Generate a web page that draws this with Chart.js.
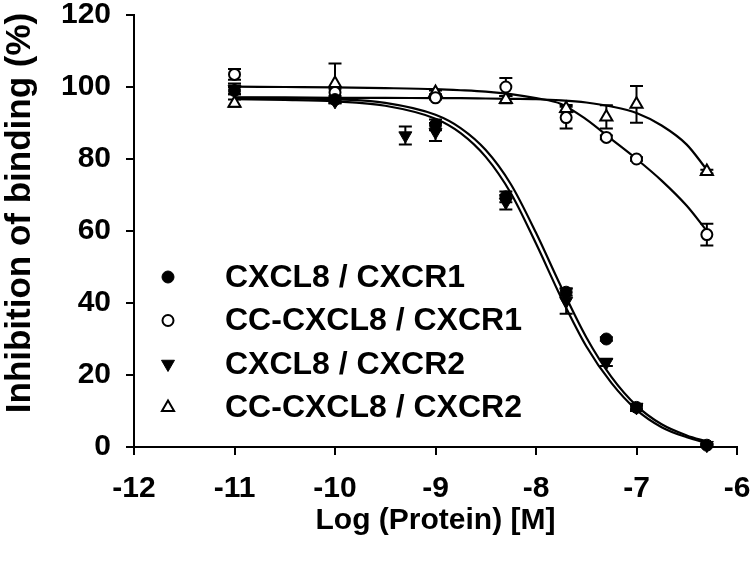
<!DOCTYPE html>
<html><head><meta charset="utf-8">
<script src="https://cdn.jsdelivr.net/npm/chart.js@4/dist/chart.umd.min.js"></script>
<style>html,body{margin:0;padding:0;background:#fff}#wrap{width:750px;height:568px}</style>
</head><body><div id="wrap"><canvas id="c" width="750" height="568"></canvas></div>
<script>
// ---- data ----
const seriesNames = ['CXCL8 / CXCR1', 'CC-CXCL8 / CXCR1', 'CXCL8 / CXCR2', 'CC-CXCL8 / CXCR2'];
const xLabel = 'Log (Protein) [M]';
const yLabel = 'Inhibition of binding (%)';
const xMin = -12, xMax = -6, xStep = 1;
const yMin = 0, yMax = 120, yStep = 20;

// measured points (log dose, % inhibition, error)
const cxcl8R1_x   = [-11, -10, -9, -8.3, -7.7, -7.3, -7, -6.3];
const cxcl8R1_y   = [99, 96.5, 89.5, 69.5, 43, 30, 11, 0.5];
const cxcl8R1_err = [1, 0.5, 1.5, 1.5, 1, 0.5, 0.5, 0.3];

const ccR1_x   = [-11, -10, -9, -8.3, -7.7, -7.3, -7, -6.3];
const ccR1_y   = [103.5, 98.5, 97, 100, 91.5, 86, 80, 59];
const ccR1_err = [1.5, 1, 0.5, 2.5, 3, 0.5, 0.5, 3];

const cxcl8R2_x   = [-11, -10, -9.3, -9, -8.3, -7.7, -7.3, -7, -6.3];
const cxcl8R2_y   = [99.5, 96, 86.5, 87.5, 68, 40.5, 23.5, 11, 0.5];
const cxcl8R2_err = [1.5, 0.5, 2.5, 2.5, 2, 3.5, 1, 1, 0.3];

const ccR2_x   = [-11, -10, -9, -8.3, -7.7, -7.3, -7, -6.3];
const ccR2_y   = [95.5, 101, 98.5, 96.5, 94, 91.7, 95.2, 76.5];
const ccR2_err = [1, 5.5, 0.5, 1, 1, 3.2, 5.1, 0.5];

// fitted curves at these log doses
const curve_x        = [-11, -10.5, -10, -9.5, -9, -8.75, -8.5, -8.25, -8, -7.75, -7.5, -7.25, -7, -6.75, -6.5, -6.3];
const curveCxcl8R1_y = [97.0, 96.9, 96.6, 95.6, 92.3, 88.6, 82.5, 73.0, 59.5, 44.5, 30.5, 19.5, 11.5, 6.3, 3.2, 1.5];
const curveCxcl8R2_y = [96.6, 96.4, 96.0, 94.8, 91.2, 87.2, 80.6, 70.5, 56.5, 41.5, 28.0, 17.8, 10.3, 5.5, 2.7, 1.1];
const curveCcR1_y    = [100.1, 100.0, 99.9, 99.7, 99.4, 99.1, 98.7, 98.0, 96.9, 95.3, 91.0, 85.5, 80.0, 74.0, 67.0, 60.0];
const curveCcR2_y    = [97.1, 97.1, 97.0, 97.0, 96.9, 96.9, 96.8, 96.7, 96.6, 96.3, 95.7, 94.6, 92.8, 89.3, 84.0, 77.0];

// ---- build ----
const FONT = "'Liberation Sans', Arial, sans-serif";
const pts = (xs, ys, es) => xs.map((x, i) => ({x: x, y: ys[i], e: es ? es[i] : 0}));

const markerStyles = [
  {pointStyle: 'circle',   rotation: 0,   radius: 6,   bg: '#000', bw: 1},
  {pointStyle: 'circle',   rotation: 0,   radius: 5.5, bg: '#fff', bw: 2},
  {pointStyle: 'triangle', rotation: 180, radius: 7.5, bg: '#000', bw: 1},
  {pointStyle: 'triangle', rotation: 0,   radius: 7,   bg: '#fff', bw: 2}
];
const pointSets = [
  pts(cxcl8R1_x, cxcl8R1_y, cxcl8R1_err),
  pts(ccR1_x, ccR1_y, ccR1_err),
  pts(cxcl8R2_x, cxcl8R2_y, cxcl8R2_err),
  pts(ccR2_x, ccR2_y, ccR2_err)
];
const curveSets = [curveCxcl8R1_y, curveCcR1_y, curveCxcl8R2_y, curveCcR2_y];

const datasets = [];
curveSets.forEach((ys, k) => {
  datasets.push({
    label: seriesNames[k] + ' fit', data: pts(curve_x, ys), showLine: true,
    borderColor: '#000', borderWidth: 2.2, pointRadius: 0, fill: false,
    cubicInterpolationMode: 'monotone', order: 10, clip: false, isCurve: true
  });
});
pointSets.forEach((d, k) => {
  const m = markerStyles[k];
  datasets.push({
    label: seriesNames[k], data: d, showLine: false,
    pointStyle: m.pointStyle, rotation: m.rotation, pointRadius: m.radius,
    pointBackgroundColor: m.bg, pointBorderColor: '#000', pointBorderWidth: m.bw,
    order: 1, clip: false, isPoints: true, markerIndex: k
  });
});

const errorBars = {
  id: 'errorBars',
  beforeDatasetsDraw(chart) {
    const ctx = chart.ctx, xs = chart.scales.x, ys = chart.scales.y;
    ctx.save();
    ctx.strokeStyle = '#000'; ctx.lineWidth = 2;
    chart.data.datasets.forEach(ds => {
      if (!ds.isPoints) return;
      ds.data.forEach(p => {
        if (!p.e) return;
        const px = xs.getPixelForValue(p.x);
        const yt = ys.getPixelForValue(p.y + p.e), yb = ys.getPixelForValue(p.y - p.e);
        ctx.beginPath();
        ctx.moveTo(px, yt); ctx.lineTo(px, yb);
        ctx.moveTo(px - 6.5, yt); ctx.lineTo(px + 6.5, yt);
        ctx.moveTo(px - 6.5, yb); ctx.lineTo(px + 6.5, yb);
        ctx.stroke();
      });
    });
    ctx.restore();
  }
};

function drawMarker(ctx, m, x, y) {
  ctx.save();
  ctx.fillStyle = m.bg; ctx.strokeStyle = '#000'; ctx.lineWidth = m.bw;
  ctx.beginPath();
  if (m.pointStyle === 'circle') {
    ctx.arc(x, y, m.radius, 0, Math.PI * 2);
  } else {
    let rad = m.rotation * Math.PI / 180;
    for (let i = 0; i < 3; i++) {
      const px = x + Math.sin(rad) * m.radius, py = y - Math.cos(rad) * m.radius;
      if (i === 0) ctx.moveTo(px, py); else ctx.lineTo(px, py);
      rad += 2 * Math.PI / 3;
    }
    ctx.closePath();
  }
  ctx.fill(); ctx.stroke();
  ctx.restore();
}

const insideLegend = {
  id: 'insideLegend',
  afterDraw(chart) {
    const ctx = chart.ctx, a = chart.chartArea;
    ctx.save();
    ctx.font = 'bold 32px ' + FONT;
    ctx.fillStyle = '#000'; ctx.textAlign = 'left'; ctx.textBaseline = 'middle';
    seriesNames.forEach((name, k) => {
      const y = a.top + 262 + k * 43.5;
      drawMarker(ctx, markerStyles[k], a.left + 34, y);
      ctx.fillText(name, a.left + 91, y + 1);
    });
    ctx.restore();
  }
};

const yTitle = {
  id: 'yTitle',
  afterDraw(chart) {
    const ctx = chart.ctx;
    ctx.save();
    ctx.translate(20, 213);
    ctx.rotate(-Math.PI / 2);
    ctx.font = 'bold 35px ' + FONT;
    ctx.fillStyle = '#000'; ctx.textAlign = 'center'; ctx.textBaseline = 'middle';
    ctx.fillText(yLabel, 0, 0);
    ctx.restore();
  }
};

new Chart(document.getElementById('c'), {
  type: 'scatter',
  data: {datasets: datasets},
  plugins: [errorBars, insideLegend, yTitle],
  options: {
    responsive: false, animation: false, devicePixelRatio: 1,
    layout: {padding: {top: 15, right: 13, left: 0, bottom: 0}},
    plugins: {legend: {display: false}, tooltip: {enabled: false}},
    scales: {
      x: {
        type: 'linear', min: xMin, max: xMax,
        border: {display: true, color: '#000', width: 2},
        grid: {drawOnChartArea: false, drawTicks: true, tickLength: 8, color: '#000', lineWidth: 2},
        ticks: {stepSize: xStep, color: '#000', padding: 16, font: {family: FONT, size: 30, weight: 'bold'},
                callback: v => String(v)},
        title: {display: true, text: xLabel, color: '#000', font: {family: FONT, size: 30, weight: 'bold'},
                padding: {top: 0, bottom: 29}},
        afterFit(s) { s.height = 121; s.paddingLeft = 0; s.paddingRight = 0; }
      },
      y: {
        type: 'linear', min: yMin, max: yMax,
        border: {display: true, color: '#000', width: 2},
        grid: {drawOnChartArea: false, drawTicks: true, tickLength: 8, color: '#000', lineWidth: 2},
        ticks: {stepSize: yStep, color: '#000', padding: 15, font: {family: FONT, size: 30, weight: 'bold'},
                callback: v => String(v)},
        title: {display: false},
        afterFit(s) { s.width = 134; s.paddingTop = 0; s.paddingBottom = 0; }
      }
    }
  }
});
</script>
</body></html>
